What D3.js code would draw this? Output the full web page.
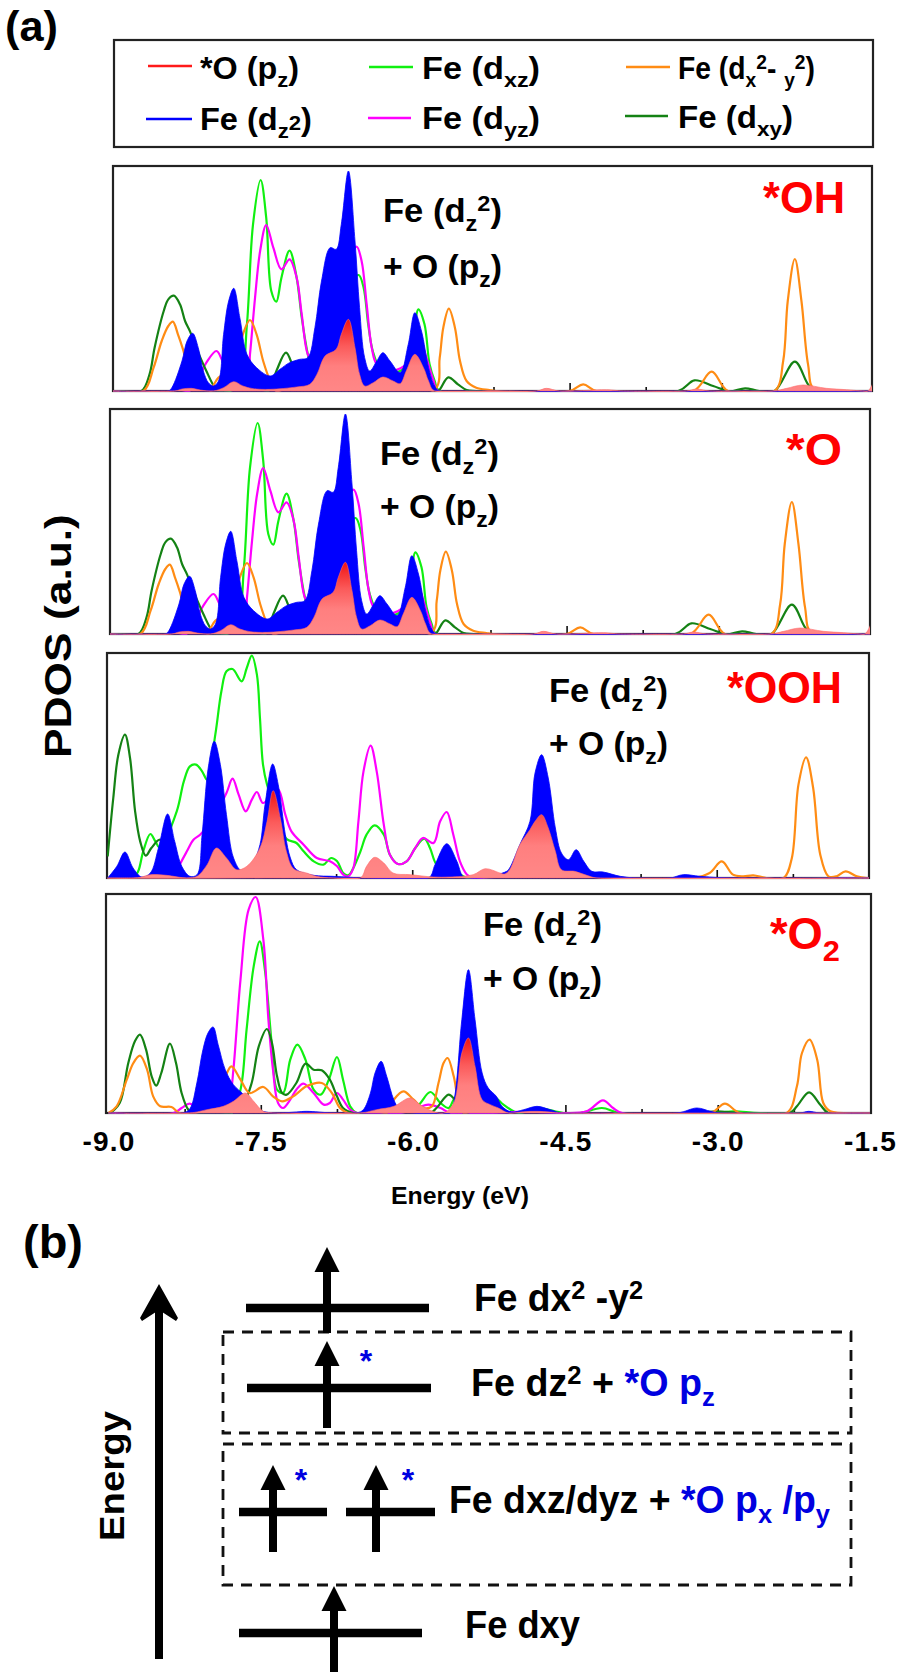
<!DOCTYPE html>
<html><head><meta charset="utf-8">
<script src="https://cdn.jsdelivr.net/npm/d3@7"></script>
<style>html,body{margin:0;padding:0;background:#fff}svg{display:block}text{font-family:"Liberation Sans",Arial,sans-serif;font-weight:bold}</style>
</head><body><svg id="c" width="900" height="1675"></svg>
<script>
// ---------- data: [energy eV, PDOS a.u.] ----------
const xTickLabels = ["-9.0","-7.5","-6.0","-4.5","-3.0","-1.5"];
const xTickValues = [-9,-7.5,-6,-4.5,-3,-1.5];
const xMinorValues = [-8.25,-6.75,-5.25,-3.75,-2.25];

const dxyOH = [[-8.72,0],[-8.64,50],[-8.59,130],[-8.50,240],[-8.455,275],[-8.40,286],[-8.34,260],[-8.29,210],[-8.24,178],[-8.18,130],[-8.08,60],[-7.995,10],[-7.95,0],[-7.47,0],[-7.39,60],[-7.295,115],[-7.22,70],[-7.16,40],[-7.08,25],[-6.9,40],[-6.6,60],[-6.2,30],[-5.85,3],[-5.795,0],[-5.696,41],[-5.60,20],[-5.515,3],[-5.42,0],[-3.43,0],[-3.27,32],[-3.085,15],[-2.94,0],[-2.89,0],[-2.77,8],[-2.63,0],[-2.48,0],[-2.28,88],[-2.15,20],[-2.08,0]];
const dx2OH = [[-8.70,0],[-8.60,70],[-8.52,150],[-8.455,195],[-8.41,208],[-8.36,170],[-8.31,125],[-8.24,50],[-8.14,10],[-8.08,5],[-8.03,10],[-7.96,40],[-7.80,70],[-7.72,170],[-7.65,213],[-7.585,170],[-7.52,90],[-7.45,30],[-7.39,0],[-5.84,0],[-5.78,100],[-5.745,190],[-5.69,247],[-5.63,190],[-5.58,90],[-5.515,30],[-5.42,10],[-5.29,3],[-5.22,0],[-4.50,0],[-4.366,20],[-4.235,0],[-3.28,0],[-3.10,58],[-2.94,0],[-2.48,0],[-2.395,90],[-2.35,270],[-2.28,396],[-2.215,270],[-2.15,80],[-2.08,0]];
const dxzOH = [[-7.85,0],[-7.75,20],[-7.68,200],[-7.62,500],[-7.545,633],[-7.49,520],[-7.44,300],[-7.39,268],[-7.34,340],[-7.26,421],[-7.19,340],[-7.14,220],[-7.08,110],[-7.03,50],[-6.96,60],[-6.83,150],[-6.70,300],[-6.58,348],[-6.53,310],[-6.485,200],[-6.44,120],[-6.37,70],[-6.27,60],[-6.17,60],[-6.07,100],[-5.99,245],[-5.93,200],[-5.88,80],[-5.83,30],[-5.78,0]];
const dyzOH = [[-8.25,0],[-8.14,50],[-8.08,85],[-7.98,120],[-7.90,80],[-7.78,55],[-7.67,60],[-7.65,110],[-7.60,280],[-7.55,420],[-7.49,498],[-7.42,430],[-7.34,365],[-7.26,395],[-7.19,340],[-7.14,230],[-7.08,110],[-7.0,70],[-6.76,300],[-6.60,433],[-6.55,390],[-6.50,260],[-6.45,130],[-6.40,80],[-6.27,60],[-6.07,90],[-5.99,180],[-5.93,120],[-5.84,30],[-5.795,0]];
const dz2OH = [[-8.455,0],[-8.42,10],[-8.32,90],[-8.27,150],[-8.215,173],[-8.16,130],[-8.11,60],[-8.06,25],[-8.01,15],[-7.96,30],[-7.91,170],[-7.86,270],[-7.81,308],[-7.75,220],[-7.68,110],[-7.585,70],[-7.45,45],[-7.355,65],[-7.26,85],[-7.16,95],[-7.08,100],[-7.01,190],[-6.945,330],[-6.86,430],[-6.80,425],[-6.75,500],[-6.68,660],[-6.615,450],[-6.57,250],[-6.52,100],[-6.47,60],[-6.40,90],[-6.34,115],[-6.27,90],[-6.17,55],[-6.09,140],[-6.025,235],[-5.96,180],[-5.89,70],[-5.83,15],[-5.78,0]];
const pzOH = [[-8.39,0],[-8.32,6],[-8.225,8],[-8.14,3],[-8.01,0],[-7.91,10],[-7.81,28],[-7.72,15],[-7.62,7],[-7.45,5],[-7.19,12],[-7.06,20],[-6.99,50],[-6.91,105],[-6.80,125],[-6.75,170],[-6.68,215],[-6.615,130],[-6.57,50],[-6.52,15],[-6.435,25],[-6.34,42],[-6.24,30],[-6.17,22],[-6.11,60],[-6.025,110],[-5.94,70],[-5.89,30],[-5.83,0],[-4.825,0],[-4.73,8],[-4.60,0],[-4.136,4],[-3.97,0],[-3.35,0],[-3.25,6],[-3.12,0],[-2.49,0],[-2.36,8],[-2.20,18],[-1.97,8],[-1.77,4],[-1.61,0],[-1.56,0],[-1.5,30]];

const dxyOOH = [[-9.0,65],[-8.945,240],[-8.895,370],[-8.83,430],[-8.78,360],[-8.73,200],[-8.68,110],[-8.625,67],[-8.57,90],[-8.485,115],[-8.42,60],[-8.32,0]];
const dx2OOH = [[-3.23,0],[-3.07,15],[-2.95,50],[-2.84,10],[-2.74,5],[-2.64,8],[-2.51,0],[-2.34,0],[-2.26,60],[-2.195,280],[-2.12,362],[-2.05,270],[-1.98,70],[-1.90,5],[-1.82,5],[-1.73,20],[-1.62,5],[-1.52,0]];
const dxzOOH = [[-8.75,0],[-8.70,20],[-8.65,80],[-8.58,132],[-8.53,110],[-8.485,90],[-8.32,200],[-8.25,290],[-8.19,335],[-8.13,340],[-8.07,320],[-8.02,295],[-7.94,430],[-7.88,560],[-7.83,620],[-7.77,627],[-7.68,590],[-7.63,630],[-7.58,667],[-7.53,610],[-7.50,480],[-7.47,340],[-7.43,280],[-7.335,200],[-7.24,118],[-7.14,105],[-7.07,80],[-6.97,50],[-6.875,40],[-6.80,60],[-6.74,50],[-6.68,15],[-6.63,8],[-6.58,30],[-6.51,80],[-6.45,130],[-6.37,158],[-6.28,130],[-6.22,70],[-6.14,42],[-6.055,50],[-5.97,90],[-5.88,118],[-5.825,90],[-5.76,40],[-5.66,20],[-5.53,10],[-5.45,0]];
const dyzOOH = [[-8.35,0],[-8.29,40],[-8.22,80],[-8.155,115],[-8.09,130],[-7.96,180],[-7.83,255],[-7.77,298],[-7.71,250],[-7.64,200],[-7.58,235],[-7.53,258],[-7.47,225],[-7.385,250],[-7.32,265],[-7.25,190],[-7.19,140],[-7.07,100],[-6.94,60],[-6.81,50],[-6.74,35],[-6.68,10],[-6.63,5],[-6.58,30],[-6.53,170],[-6.48,320],[-6.41,397],[-6.35,320],[-6.28,160],[-6.22,70],[-6.14,42],[-6.055,50],[-5.97,90],[-5.895,120],[-5.79,105],[-5.725,170],[-5.66,198],[-5.595,130],[-5.53,50],[-5.46,10],[-5.40,0]];
const dz2OOH = [[-9.0,0],[-8.91,35],[-8.83,78],[-8.75,30],[-8.665,3],[-8.58,15],[-8.50,90],[-8.41,192],[-8.34,110],[-8.27,35],[-8.19,5],[-8.12,10],[-8.07,130],[-8.01,330],[-7.95,410],[-7.89,340],[-7.83,190],[-7.76,60],[-7.68,22],[-7.565,50],[-7.50,100],[-7.45,220],[-7.375,342],[-7.32,280],[-7.25,130],[-7.20,60],[-7.14,25],[-6.97,8],[-6.78,5],[-6.61,2],[-6.45,0],[-5.84,0],[-5.775,40],[-5.66,103],[-5.56,50],[-5.50,5],[-5.43,0],[-5.33,0],[-5.07,20],[-5.04,30],[-4.94,100],[-4.84,170],[-4.79,315],[-4.725,370],[-4.66,300],[-4.59,150],[-4.53,75],[-4.46,55],[-4.385,85],[-4.31,50],[-4.23,20],[-4.12,18],[-3.95,5],[-3.79,0],[-3.46,0],[-3.33,10],[-3.165,5],[-2.87,0]];
const pzOOH = [[-8.75,0],[-8.665,3],[-8.58,10],[-8.42,8],[-8.22,0],[-8.12,5],[-8.02,40],[-7.93,90],[-7.83,60],[-7.73,25],[-7.63,35],[-7.50,90],[-7.43,170],[-7.37,262],[-7.30,180],[-7.24,80],[-7.17,28],[-7.04,15],[-6.94,5],[-6.78,0],[-6.51,0],[-6.45,35],[-6.37,62],[-6.28,45],[-6.19,15],[-6.02,10],[-5.79,3],[-5.63,3],[-5.40,10],[-5.28,28],[-5.135,15],[-5.09,12],[-5.04,25],[-4.94,100],[-4.84,145],[-4.79,170],[-4.725,190],[-4.66,150],[-4.59,80],[-4.53,25],[-4.40,20],[-4.28,8],[-4.18,0]];

const dxyO2 = [[-8.985,0],[-8.89,30],[-8.805,150],[-8.74,215],[-8.69,235],[-8.63,190],[-8.575,110],[-8.53,82],[-8.48,120],[-8.395,208],[-8.335,150],[-8.28,60],[-8.21,8],[-8.165,0],[-7.80,0],[-7.67,30],[-7.59,90],[-7.52,200],[-7.44,252],[-7.39,210],[-7.34,110],[-7.29,60],[-7.245,55],[-7.15,90],[-7.06,148],[-6.98,130],[-6.90,128],[-6.82,100],[-6.75,50],[-6.69,15],[-6.59,0],[-5.83,0],[-5.77,15],[-5.65,55],[-5.59,40],[-5.50,0],[-3.24,0],[-3.01,5],[-2.78,0],[-2.29,0],[-2.22,20],[-2.10,62],[-1.99,25],[-1.91,0]];
const dx2O2 = [[-8.92,20],[-8.82,100],[-8.755,150],[-8.69,172],[-8.62,130],[-8.56,50],[-8.49,20],[-8.38,18],[-8.30,0],[-8.10,5],[-7.97,50],[-7.85,110],[-7.79,140],[-7.70,100],[-7.61,60],[-7.475,78],[-7.38,50],[-7.29,35],[-7.18,50],[-7.05,80],[-6.90,90],[-6.80,60],[-6.72,15],[-6.64,0],[-6.26,0],[-6.19,40],[-6.095,65],[-5.995,40],[-5.90,15],[-5.815,20],[-5.75,90],[-5.70,150],[-5.66,165],[-5.60,110],[-5.55,30],[-5.50,0],[-3.07,0],[-2.93,28],[-2.78,0],[-2.32,0],[-2.22,80],[-2.17,180],[-2.095,220],[-2.02,160],[-1.96,30],[-1.89,5],[-1.51,0]];
const dxzO2 = [[-7.79,0],[-7.70,70],[-7.64,250],[-7.57,440],[-7.51,515],[-7.46,430],[-7.39,200],[-7.34,70],[-7.28,60],[-7.21,160],[-7.14,205],[-7.06,160],[-6.98,70],[-6.91,55],[-6.83,100],[-6.75,168],[-6.69,100],[-6.62,20],[-6.555,0],[-6.13,0],[-5.96,20],[-5.83,63],[-5.73,30],[-5.65,15],[-5.60,40],[-5.54,60],[-5.21,50],[-5.11,25],[-5.01,5],[-4.95,0],[-4.78,15],[-4.52,0],[-4.355,0],[-4.14,15],[-3.96,0],[-3.04,0],[-2.84,5],[-2.58,0]];
const dyzO2 = [[-8.36,0],[-8.28,15],[-8.20,28],[-8.10,10],[-7.87,20],[-7.80,60],[-7.77,130],[-7.70,400],[-7.62,610],[-7.55,648],[-7.475,520],[-7.425,280],[-7.38,130],[-7.33,30],[-7.28,15],[-7.21,40],[-7.15,70],[-7.08,88],[-6.98,60],[-6.88,25],[-6.82,30],[-6.75,60],[-6.69,40],[-6.62,10],[-6.555,0],[-6.13,0],[-5.96,15],[-5.85,25],[-5.73,15],[-5.63,0],[-5.01,3],[-4.78,3],[-4.52,0],[-4.29,5],[-4.13,38],[-4.03,15],[-3.94,0]];
const dz2O2 = [[-8.27,0],[-8.20,12],[-8.13,90],[-8.07,190],[-8.02,240],[-7.97,258],[-7.92,205],[-7.85,130],[-7.77,85],[-7.67,55],[-7.61,25],[-7.51,8],[-7.38,0],[-7.15,3],[-7.05,5],[-6.79,0],[-6.555,0],[-6.49,10],[-6.42,60],[-6.375,120],[-6.315,155],[-6.26,110],[-6.19,40],[-6.13,10],[-6.0,0],[-5.635,0],[-5.59,50],[-5.52,280],[-5.455,430],[-5.39,280],[-5.32,120],[-5.26,75],[-5.18,50],[-5.125,20],[-5.03,3],[-4.91,10],[-4.78,20],[-4.65,10],[-4.535,0],[-3.40,0],[-3.205,15],[-3.07,5],[-2.975,0],[-2.19,0],[-2.105,5],[-1.99,0]];
const pzO2 = [[-8.20,0],[-8.03,10],[-7.87,20],[-7.77,35],[-7.65,60],[-7.57,35],[-7.475,5],[-7.38,0],[-6.52,0],[-6.36,10],[-6.19,20],[-6.03,45],[-5.93,25],[-5.83,8],[-5.70,0],[-5.60,30],[-5.52,180],[-5.455,225],[-5.39,140],[-5.32,40],[-5.24,25],[-5.16,15],[-5.06,0],[-4.91,4],[-4.78,5],[-4.65,3],[-4.55,0]];

// ---------- layout ----------
const colors = {pz:"#ff1a1a",dz2:"#0000ff",dxz:"#10f010",dyz:"#ff00ff",dx2:"#ff8c14",dxy:"#148214"};
const panels = [
 {left:113,right:872,top:166,bottom:391,x0:113,x1:874,ymax:675,name:[["*OH"]],nameX:763,nameY:213,nameW:82,tag:[383,222,278],s:{dxy:dxyOH,dx2:dx2OH,dxz:dxzOH,dyz:dyzOH,dz2:dz2OH,pz:pzOH}},
 {left:110,right:870,top:409,bottom:634,x0:110,x1:871,ymax:675,name:[["*O"]],nameX:786,nameY:465,nameW:56,tag:[380,465,518],s:{dxy:dxyOH,dx2:dx2OH,dxz:dxzOH,dyz:dyzOH,dz2:dz2OH,pz:pzOH}},
 {left:107,right:869,top:653,bottom:878,x0:107.7,x1:869,ymax:675,name:[["*OOH"]],nameX:727,nameY:703,nameW:115,tag:[549,702,755],s:{dxy:dxyOOH,dx2:dx2OOH,dxz:dxzOOH,dyz:dyzOOH,dz2:dz2OOH,pz:pzOOH}},
 {left:106,right:871,top:894,bottom:1113,x0:108.5,x1:870,ymax:657,name:[["*O"],["2","sub"]],nameX:770,nameY:949,nameW:70,tag:[483,936,990],s:{dxy:dxyO2,dx2:dx2O2,dxz:dxzO2,dyz:dyzO2,dz2:dz2O2,pz:pzO2}}
];
const lineOrder = ["dxz","dyz","dxy","dx2"];
const svg = d3.select("#c");
const defs = svg.append("defs");

// gradient of the *O fill
const grad = defs.append("linearGradient").attr("id","pzFill").attr("x1",0).attr("x2",0).attr("y1",0).attr("y2",1);
[[0,"#f01414"],[0.35,"#fb5a5a"],[0.62,"#ff7f7f"],[1,"#ff8888"]].forEach(d=>grad.append("stop").attr("offset",d[0]).attr("stop-color",d[1]));

// rich text: segments [text, "sub"|"sup"|"mid"|"", colour]; optional horizontal fit to a measured width
function rich(parent,x,y,size,segs,width,rotate){
  const t = parent.append("text").attr("font-size",size);
  let shift=0;
  segs.forEach(s=>{
    const mode=s[1]||"";
    const target = mode==="sub"? size*0.27 : mode==="sup"? -size*0.32 : 0;
    t.append("tspan").attr("dy",target-shift).attr("font-size",mode?size*0.68:size).attr("fill",s[2]||"#000").text(s[0]);
    shift=target;
  });
  const w=t.node().getComputedTextLength();
  const k=width? width/w : 1;
  t.attr("transform",`translate(${x},${y})${rotate?` rotate(${rotate})`:""} scale(${k},1)`);
  return t;
}
const withEnds = d => {
  const a=d.slice();
  if(a[0][0]>-9) a.unshift([-9,0]);
  if(a[a.length-1][0]<-1.5) a.push([-1.5,0]);
  return a;
};

panels.forEach((p,i)=>{
  const g=svg.append("g");
  const x=d3.scaleLinear().domain([-9,-1.5]).range([p.x0,p.x1]);
  const y=d3.scaleLinear().domain([0,p.ymax]).range([p.bottom,p.top]);
  const curve=d3.curveCatmullRom.alpha(0.5);
  const area=d3.area().x(d=>x(d[0])).y0(y(0)).y1(d=>y(d[1])).curve(curve);
  const line=d3.line().x(d=>x(d[0])).y(d=>y(d[1])).curve(curve);
  defs.append("clipPath").attr("id","clip"+i).append("rect").attr("x",p.left).attr("y",p.top).attr("width",p.right-p.left).attr("height",p.bottom-p.top+1);
  g.append("rect").attr("x",p.left).attr("y",p.top).attr("width",p.right-p.left).attr("height",p.bottom-p.top).attr("fill","#fff").attr("stroke","#222").attr("stroke-width",2.2);
  // inward ticks
  g.append("g").attr("transform",`translate(0,${p.bottom})`).call(d3.axisBottom(x).tickValues(xTickValues.slice(1,-1)).tickSize(-8).tickFormat("")).call(a=>a.select(".domain").remove()).selectAll("line").attr("stroke","#111").attr("stroke-width",1.6);
  g.append("g").attr("transform",`translate(0,${p.bottom})`).call(d3.axisBottom(x).tickValues(xMinorValues).tickSize(-4).tickFormat("")).call(a=>a.select(".domain").remove()).selectAll("line").attr("stroke","#111").attr("stroke-width",1.6);
  const marks=g.append("g").attr("clip-path",`url(#clip${i})`);
  lineOrder.forEach(k=>{
    marks.append("path").datum(withEnds(p.s[k])).attr("d",line).attr("fill","none").attr("stroke",colors[k]).attr("stroke-width",2.2);
  });
  marks.append("path").datum(withEnds(p.s.dz2)).attr("d",area).attr("fill",colors.dz2).attr("stroke",colors.dz2).attr("stroke-width",0.8);
  marks.append("path").datum(withEnds(p.s.pz)).attr("d",area).attr("fill","url(#pzFill)").attr("stroke","#ff6a6a").attr("stroke-width",0.6);
  rich(g,p.tag[0],p.tag[1],33.5,[["Fe (d"],["z","sub"],["2","sup"],[")"]],119);
  rich(g,p.tag[0],p.tag[2],33.5,[["+ O (p"],["z","sub"],[")"]],119);
  rich(g,p.nameX,p.nameY,44,p.name.map(s=>[s[0],s[1]||"","#ff0000"]),p.nameW);
});

// bottom axis labels, from the last panel's scale
const last=panels[3];
const xb=d3.scaleLinear().domain([-9,-1.5]).range([last.x0,last.x1]);
const ax=svg.append("g").attr("transform",`translate(0,${last.bottom})`).call(d3.axisBottom(xb).tickValues(xTickValues).tickSize(0).tickFormat((d,i)=>xTickLabels[i]));
ax.select(".domain").remove();
ax.selectAll("text").attr("y",38).attr("dy",0).attr("font-size",28).attr("fill","#000").attr("letter-spacing",1.2).attr("font-family","Liberation Sans").attr("font-weight","bold");

rich(svg,391,1204,24.5,[["Energy (eV)"]],138);
rich(svg,71,758,36,[["PDOS (a.u.)"]],244,-90);

// legend
svg.append("rect").attr("x",114).attr("y",40).attr("width",759).attr("height",107).attr("fill","none").attr("stroke","#222").attr("stroke-width",2.2);
const legendRows = [
 {k:"pz",x1:148,x2:192,ly:66,tx:200,ty:79,w:99,seg:[["*O (p"],["z","sub"],[")"]]},
 {k:"dxz",x1:369,x2:413,ly:67,tx:422,ty:79,w:118,seg:[["Fe (d"],["xz","sub"],[")"]]},
 {k:"dx2",x1:626,x2:670,ly:67,tx:678,ty:79,w:137,seg:[["Fe (d"],["x","sub"],["2","sup"],["- "],["y","sub"],["2","sup"],[")"]]},
 {k:"dz2",x1:146,x2:192,ly:119,tx:200,ty:130,w:112,seg:[["Fe (d"],["z","sub"],["2","mid"],[")"]]},
 {k:"dyz",x1:368,x2:411,ly:118,tx:422,ty:129,w:118,seg:[["Fe (d"],["yz","sub"],[")"]]},
 {k:"dxy",x1:625,x2:668,ly:116,tx:678,ty:128,w:115,seg:[["Fe (d"],["xy","sub"],[")"]]}
];
legendRows.forEach(r=>{
  svg.append("line").attr("x1",r.x1).attr("x2",r.x2).attr("y1",r.ly).attr("y2",r.ly).attr("stroke",colors[r.k]).attr("stroke-width",2.6);
  rich(svg,r.tx,r.ty,31,r.seg,r.w);
});
rich(svg,5,41,43,[["(a)"]],53);
rich(svg,23,1258,46,[["(b)"]],60);

// ---------- panel (b): level scheme ----------
const levels = [
 {x1:246,x2:429,y:1308,ax:327,tip:1247,base:1333},
 {x1:247,x2:431,y:1388,ax:327,tip:1341,base:1428},
 {x1:239,x2:327,y:1512,ax:273,tip:1465,base:1552},
 {x1:346,x2:435,y:1512,ax:376,tip:1465,base:1552},
 {x1:239,x2:422,y:1633,ax:334,tip:1586,base:1672}
];
const boxes = [{x:223,y:1332,w:628,h:101},{x:223,y:1444,w:628,h:141}];
const stars = [[366,1372],[301,1491],[408,1491]];
boxes.forEach(b=>svg.append("rect").attr("x",b.x).attr("y",b.y).attr("width",b.w).attr("height",b.h).attr("fill","none").attr("stroke","#111").attr("stroke-width",2.8).attr("stroke-dasharray","11 8"));
levels.forEach(l=>{
  svg.append("line").attr("x1",l.x1).attr("x2",l.x2).attr("y1",l.y).attr("y2",l.y).attr("stroke","#000").attr("stroke-width",8.5);
  svg.append("line").attr("x1",l.ax).attr("x2",l.ax).attr("y1",l.base).attr("y2",l.tip+20).attr("stroke","#000").attr("stroke-width",8);
  svg.append("path").attr("d",d3.line()([[l.ax,l.tip],[l.ax+12.5,l.tip+25],[l.ax-12.5,l.tip+25]])+"Z").attr("fill","#000");
});
stars.forEach(s=>svg.append("text").attr("x",s[0]).attr("y",s[1]).attr("font-size",32).attr("text-anchor","middle").attr("fill","#0000e0").text("*"));
// big energy arrow
svg.append("line").attr("x1",159).attr("x2",159).attr("y1",1659).attr("y2",1295).attr("stroke","#000").attr("stroke-width",8);
svg.append("path").attr("d",d3.line()([[159,1284],[178,1318],[176,1321],[159,1310],[142,1321],[140,1318]])+"Z").attr("fill","#000");
rich(svg,124,1541,36,[["Energy"]],130,-90);

const B="#0000e0";
rich(svg,474,1311,38,[["Fe dx"],["2","sup"],[" -y"],["2","sup"]],169);
rich(svg,471,1396,38,[["Fe dz"],["2","sup"],[" + "],["*O p",""  ,B],["z","sub",B]],244);
rich(svg,449,1513,38,[["Fe dxz/dyz + "],["*O p","",B],["x","sub",B],[" /p","",B],["y","sub",B]],381);
rich(svg,465,1638,38,[["Fe dxy"]],115);
</script></body></html>
